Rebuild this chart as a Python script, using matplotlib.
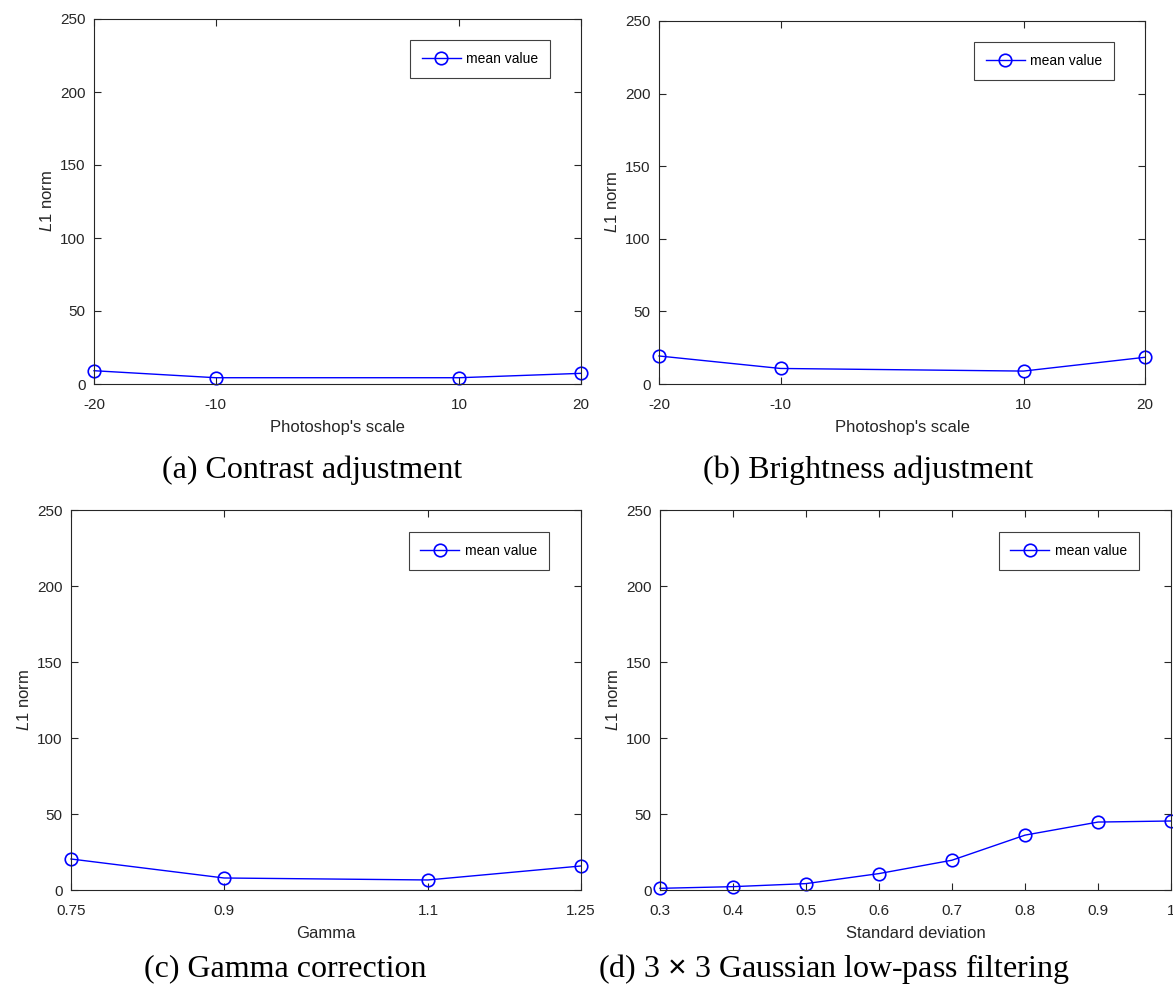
import matplotlib
matplotlib.use('Agg')
import matplotlib.pyplot as plt

plt.rcParams['font.family'] = ['Liberation Sans', 'DejaVu Sans']
plt.rcParams['mathtext.fontset'] = 'custom'
plt.rcParams['mathtext.it'] = 'Liberation Sans:italic'
plt.rcParams['mathtext.rm'] = 'Liberation Sans'
plt.rcParams['axes.unicode_minus'] = False

# data
contrast_x = [-20, -10, 10, 20]
contrast_y = [9.1, 4.3, 4.3, 7.3]

brightness_x = [-20, -10, 10, 20]
brightness_y = [19.3, 10.7, 8.9, 18.4]

gamma_x = [0.75, 0.9, 1.1, 1.25]
gamma_y = [20.4, 7.9, 6.6, 15.8]

sigma_x = [0.3, 0.4, 0.5, 0.6, 0.7, 0.8, 0.9, 1.0]
sigma_y = [1.1, 2.2, 4.2, 10.8, 19.6, 36.1, 44.7, 45.4]

contrast_ticks = [-20, -10, 10, 20]
gamma_ticks = [0.75, 0.9, 1.1, 1.25]
gamma_labels = ['0.75', '0.9', '1.1', '1.25']
sigma_ticks = [0.3, 0.4, 0.5, 0.6, 0.7, 0.8, 0.9, 1.0]
sigma_labels = ['0.3', '0.4', '0.5', '0.6', '0.7', '0.8', '0.9', '1']
y_ticks = [0, 50, 100, 150, 200, 250]

W, H = 1173, 985
fig = plt.figure(figsize=(W / 100, H / 100), dpi=100)


def px_axes(left, right, top, bottom):
    return fig.add_axes([left / W, 1 - bottom / H, (right - left) / W, (bottom - top) / H])


panels = [
    # x, y, ticks, labels, xlabel, caption, axes box (px), caption centre (px)
    (contrast_x, contrast_y, contrast_ticks, None, "Photoshop's scale",
     '(a) Contrast adjustment', (94, 581, 19, 384), (312, 470)),
    (brightness_x, brightness_y, contrast_ticks, None, "Photoshop's scale",
     '(b) Brightness adjustment', (659, 1145, 21, 384), (868, 470)),
    (gamma_x, gamma_y, gamma_ticks, gamma_labels, 'Gamma',
     '(c) Gamma correction', (71, 581, 510, 890), (285, 969)),
    (sigma_x, sigma_y, sigma_ticks, sigma_labels, 'Standard deviation',
     '(d) 3 $\\times$ 3 Gaussian low-pass filtering', (660, 1171, 510, 890), (834, 969)),
]

ink = '#262626'
for x, y, ticks, labels, xlabel, caption, box, cap in panels:
    ax = px_axes(*box)
    ax.plot(x, y, color='blue', lw=1.0, marker='o', markersize=9,
            markerfacecolor='none', markeredgecolor='blue', markeredgewidth=1.2,
            label='mean value', clip_on=False)
    ax.set_xlim(ticks[0], ticks[-1])
    ax.set_ylim(0, 250)
    ax.set_xticks(ticks)
    if labels:
        ax.set_xticklabels(labels)
    ax.set_yticks(y_ticks)
    ax.tick_params(direction='in', top=True, right=True, length=5, width=0.8,
                   labelsize=11, labelcolor=ink, colors=ink)
    ax.tick_params(axis='x', pad=10)
    ax.tick_params(axis='y', pad=6)
    for s in ax.spines.values():
        s.set_color(ink)
        s.set_linewidth(0.8)
    ax.set_xlabel(xlabel, fontsize=12, color=ink, labelpad=6)
    ax.set_ylabel('$L$1 norm', fontsize=12, color=ink, labelpad=4)
    leg = ax.legend(loc='upper right', bbox_to_anchor=(0.937, 0.942), borderaxespad=0,
                    fontsize=10, handlelength=2.8, fancybox=False,
                    framealpha=1, edgecolor='#404040', borderpad=0.85,
                    handletextpad=0.4)
    leg.get_frame().set_linewidth(0.8)

    fig.text(cap[0] / W, 1 - cap[1] / H, caption, ha='center', va='center',
             fontsize=23, family=['Liberation Serif', 'DejaVu Serif'])

fig.savefig('out.png', dpi=100)
